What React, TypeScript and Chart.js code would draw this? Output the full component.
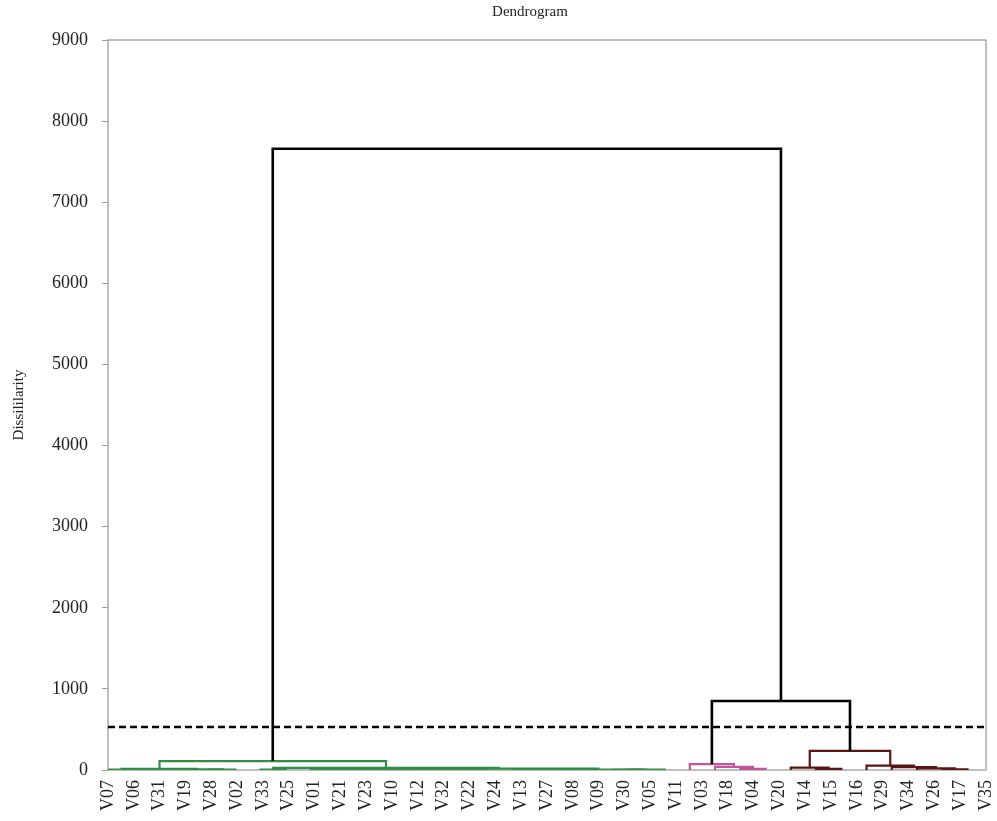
import { useEffect, useRef } from 'react';
import { Chart, registerables } from 'chart.js';

Chart.register(...registerables);

const chartTitle = 'Dendrogram';
const yAxisTitle = 'Dissililarity';

const leaves = ['V07','V06','V31','V19','V28','V02','V33','V25','V01','V21','V23','V10','V12','V32','V22','V24','V13','V27','V08','V09','V30','V05','V11','V03','V18','V04','V20','V14','V15','V16','V29','V34','V26','V17','V35'];

// merge k creates node "n{k}" from mergeLeft[k] and mergeRight[k] at mergeHeight[k]
const mergeLeft = ['V07','V31','V28','n1','n0','V33','V01','V23','n6','V12','V22','n9','n8','V13','V08','n13','V30','n16','n15','n12','n5','n4','V04','V18','V03','V15','V14','V17','V26','V34','V29','n26','n24','n21'];
const mergeRight = ['V06','V19','V02','n2','n3','V25','V21','V10','n7','V32','V24','n10','n11','V27','V09','n14','V05','V11','n17','n18','n19','n20','V20','n22','n23','V16','n25','V35','n27','n28','n29','n30','n31','n32'];
const mergeHeight = [6,4,5,9,14,4,3,4,6,3,4,7,12,2,2,3,2,4,5,16,25,110,15,38,72,14,30,8,20,36,55,235,850,7660];

const cutHeight = 530;
const yTicks = [0,1000,2000,3000,4000,5000,6000,7000,8000,9000];

const classColors = ['#2f8f45', '#c2569e', '#5a1616'];
const aboveCutColor = '#000000';
const FONT = '"Liberation Serif", "Times New Roman", serif';

export default function App() {
  const ref = useRef<HTMLCanvasElement | null>(null);

  useEffect(() => {
    const canvas = ref.current;
    if (!canvas) return;

    const xMin = -0.04;
    const xMax = 34.73;

    const pos: Record<string, number> = {};
    const hgt: Record<string, number> = {};
    const mIndex: Record<string, number> = {};
    leaves.forEach((l, i) => { pos[l] = i; hgt[l] = 0; });
    mergeHeight.forEach((h, k) => {
      const id = 'n' + k;
      mIndex[id] = k;
      pos[id] = (pos[mergeLeft[k]] + pos[mergeRight[k]]) / 2;
      hgt[id] = h;
    });

    const colorOf: Record<string, string> = {};
    let cls = 0;
    const paint = (id: string, inherited: string | null) => {
      const k = mIndex[id];
      if (k === undefined) return;
      let c = inherited;
      if (!c && mergeHeight[k] < cutHeight) c = classColors[cls++ % classColors.length];
      colorOf[id] = c || aboveCutColor;
      paint(mergeLeft[k], c);
      paint(mergeRight[k], c);
    };
    paint('n' + (mergeHeight.length - 1), null);

    const datasets: any[] = mergeHeight.map((h, k) => {
      const l = mergeLeft[k];
      const r = mergeRight[k];
      const id = 'n' + k;
      const isBlack = colorOf[id] === aboveCutColor;
      return {
        data: [
          { x: pos[l], y: hgt[l] },
          { x: pos[l], y: h },
          { x: pos[r], y: h },
          { x: pos[r], y: hgt[r] },
        ],
        borderColor: colorOf[id],
        borderWidth: isBlack ? 2.6 : 2.2,
        pointRadius: 0,
        tension: 0,
        fill: false,
        borderJoinStyle: 'miter',
        order: isBlack ? 0 : 1,
      };
    });
    datasets.push({
      data: [{ x: xMin, y: cutHeight }, { x: xMax, y: cutHeight }],
      borderColor: '#000',
      borderWidth: 2.6,
      borderDash: [7, 4],
      pointRadius: 0,
      fill: false,
      order: 0,
    });

    const framePlugin = {
      id: 'frame',
      beforeDatasetsDraw(chart: any) {
        const { ctx, chartArea: a } = chart;
        ctx.save();
        ctx.strokeStyle = '#a9a9a9';
        ctx.lineWidth = 1.5;
        ctx.strokeRect(a.left, a.top, a.right - a.left, a.bottom - a.top);
        ctx.restore();
      },
    };
    const titlePlugin = {
      id: 'topTitle',
      afterDraw(chart: any) {
        const { ctx } = chart;
        ctx.save();
        ctx.font = '15px ' + FONT;
        ctx.fillStyle = '#222';
        ctx.textAlign = 'center';
        ctx.textBaseline = 'middle';
        ctx.fillText(chartTitle, 530, 12);
        ctx.restore();
      },
    };

    const chart = new Chart(canvas, {
      type: 'line',
      data: { datasets },
      options: {
        animation: false,
        responsive: false,
        devicePixelRatio: 1,
        parsing: false,
        layout: { padding: { top: 40, right: 11, left: 0, bottom: 0 } },
        plugins: { legend: { display: false }, tooltip: { enabled: false }, title: { display: false } },
        scales: {
          x: {
            type: 'linear',
            min: xMin,
            max: xMax,
            afterBuildTicks: (s: any) => {
              s.ticks = leaves.map((_, i) => ({ value: xMin + (i * (xMax - xMin)) / (leaves.length - 1) }));
            },
            ticks: {
              autoSkip: false,
              minRotation: 90,
              maxRotation: 90,
              padding: 2,
              color: '#222',
              font: { family: FONT, size: 18 },
              callback: (_v: any, i: number) => leaves[i],
            },
            grid: { display: false },
            border: { display: false },
            afterFit: (s: any) => { s.height = 51; s.paddingLeft = 0; s.paddingRight = 0; },
          },
          y: {
            type: 'linear',
            min: yTicks[0],
            max: yTicks[yTicks.length - 1],
            afterBuildTicks: (s: any) => { s.ticks = yTicks.map((v) => ({ value: v })); },
            ticks: {
              padding: 14,
              color: '#222',
              font: { family: FONT, size: 18 },
              callback: (v: any) => String(v),
            },
            grid: { display: true, drawOnChartArea: false, tickLength: 6, color: '#9a9a9a' },
            border: { display: false },
            title: {
              display: true,
              text: yAxisTitle,
              color: '#222',
              font: { family: FONT, size: 15 },
              padding: { top: 10, bottom: 0 },
            },
            afterFit: (s: any) => { s.width = 108; s.paddingTop = 0; s.paddingBottom = 0; },
          },
        },
      },
      plugins: [framePlugin, titlePlugin],
    } as any);

    return () => chart.destroy();
  }, []);

  return (
    <div style={{ position: 'fixed', left: 0, top: 0, width: 997, height: 821, background: '#fff' }}>
      <canvas ref={ref} width={997} height={821} style={{ display: 'block', width: 997, height: 821 }} />
    </div>
  );
}
